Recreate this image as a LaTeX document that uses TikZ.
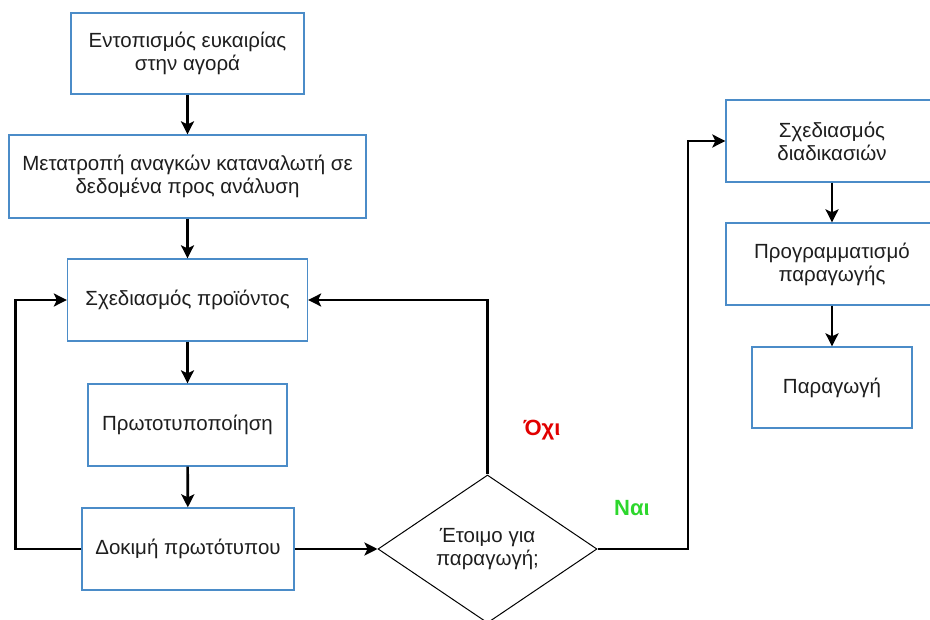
\documentclass[tikz,border=0pt]{standalone}
\usepackage{fontspec}
\setmainfont{Liberation Sans}
\usetikzlibrary{shapes.geometric,arrows.meta}
\definecolor{boxblue}{RGB}{75,140,200}
\definecolor{textdark}{RGB}{30,30,30}
\definecolor{noRed}{RGB}{225,0,0}
\definecolor{yesGreen}{RGB}{45,215,45}
\tikzset{
  procbox/.style={draw=boxblue, line width=1.3pt, fill=white, inner sep=2pt,
    align=center, text=textdark, font=\fontsize{20.5}{23}\selectfont},
  decision/.style={draw=black, line width=1pt, shape=diamond, inner sep=0pt,
    align=center, text=textdark, font=\fontsize{20.5}{23}\selectfont},
  arr/.style={draw=black, line width=2.6pt,
    -{Stealth[length=13pt,width=13pt,inset=3pt]}},
  answer/.style={font=\bfseries\fontsize{22}{24}\selectfont},
}
\begin{document}
\begin{tikzpicture}[x=1pt,y=-1pt]
\useasboundingbox (0,0) rectangle (930,620);
\clip (0,0) rectangle (930,620);

% main product-development column
\node[procbox, minimum width=233pt, minimum height=81pt] (b1) at (187.5,53.5)
  {Εντοπισμός ευκαιρίας\\στην αγορά};
\node[procbox, minimum width=357pt, minimum height=83pt] (b2) at (187.5,176.5)
  {Μετατροπή αναγκών καταναλωτή σε\\δεδομένα προς ανάλυση};
\node[procbox, minimum width=240pt, minimum height=82pt] (b3) at (187.5,300)
  {Σχεδιασμός προϊόντος};
\node[procbox, minimum width=199pt, minimum height=82pt] (b4) at (187.5,425)
  {Πρωτοτυποποίηση};
\node[procbox, minimum width=212pt, minimum height=82pt] (b5) at (188,549)
  {Δοκιμή πρωτότυπου};

% readiness check
\node[decision, minimum width=219pt, minimum height=148pt] (dia) at (487.5,549)
  {Έτοιμο για\\παραγωγή;};

% production column
\node[procbox, minimum width=212pt, minimum height=82pt] (b6) at (832,141)
  {Σχεδιασμός\\διαδικασιών};
\node[procbox, minimum width=212pt, minimum height=82pt] (b7) at (832,264)
  {Προγραμματισμό\\παραγωγής};
\node[procbox, minimum width=160pt, minimum height=81pt] (b8) at (832,387.5)
  {Παραγωγή};

% connectors
\draw[arr] (b1) -- (b2);
\draw[arr] (b2) -- (b3);
\draw[arr] (b3) -- (b4);
\draw[arr] (b4) -- (b5);
\draw[arr] (b5) -- (dia);
\draw[arr] (b5.west) -- ++(-66,0) |- (b3.west);
\draw[arr] (dia.north) |- (b3.east);
\coordinate (yesturn) at (688,549);
\draw[arr] (dia.east) -- (yesturn) |- (b6.west);
\draw[arr] (b6) -- (b7);
\draw[arr] (b7) -- (b8);

% branch labels
\node[answer, text=noRed] (no) at (542,430) {Όχι};
\node[answer, text=yesGreen] (yes) at (632,508) {Ναι};
\end{tikzpicture}
\end{document}
